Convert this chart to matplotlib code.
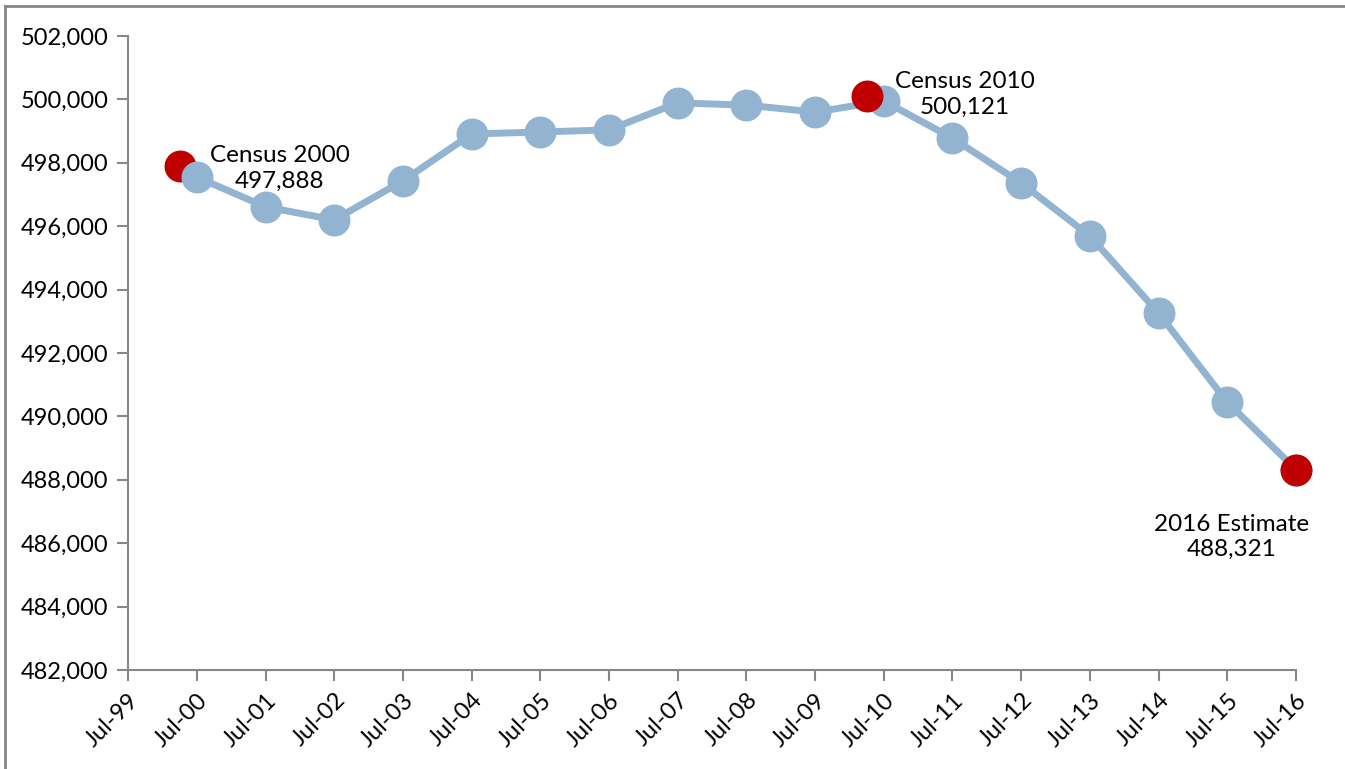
import datetime as dt
import matplotlib
matplotlib.use("Agg")
import matplotlib.pyplot as plt
import matplotlib.dates as mdates
from matplotlib.ticker import FuncFormatter
from matplotlib.lines import Line2D

plt.rcParams['font.family'] = ['Lato', 'DejaVu Sans']

# July 1 population estimates, 2000-2016
est_years = list(range(2000, 2017))
est_values = [497550, 496610, 496200, 497430, 498910, 498970, 499040, 499890,
              499820, 499600, 499950, 498780, 497360, 495690, 493260, 490450, 488321]

# census counts (April 1) and the 2016 estimate
census_dates = [dt.date(2000, 4, 1), dt.date(2010, 4, 1)]
census_values = [497888, 500121]
census_labels = ['Census 2000\n497,888', 'Census 2010\n500,121']
latest_label = '2016 Estimate\n488,321'

est_dates = [dt.date(y, 7, 1) for y in est_years]
tick_dates = [dt.date(y, 7, 1) for y in range(1999, 2017)]

blue = '#93B4D1'
red = '#C00000'
grey = '#878787'

fig = plt.figure(figsize=(13.45, 7.69), dpi=100)
ax = fig.add_axes([0.0952, 0.1287, 0.8684, 0.8245])

ax.plot(est_dates, est_values, color=blue, lw=5, marker='o', ms=22,
        mec=blue, zorder=3, clip_on=False)
ax.plot(census_dates[:1], census_values[:1], 'o', color=red, ms=22, zorder=2, clip_on=False)
ax.plot(census_dates[1:] + est_dates[-1:], census_values[1:] + est_values[-1:], 'o',
        color=red, ms=22, zorder=4, clip_on=False)

ax.annotate(census_labels[0], (census_dates[0], census_values[0]), xytext=(100, -2),
            textcoords='offset pixels', ha='center', va='center', fontsize=17.5,
            linespacing=1.25, zorder=5)
ax.annotate(census_labels[1], (census_dates[1], census_values[1]), xytext=(98, 1),
            textcoords='offset pixels', ha='center', va='center', fontsize=17.5,
            linespacing=1.25, zorder=5)
ax.annotate(latest_label, (est_dates[-1], est_values[-1]), xytext=(-64, -67),
            textcoords='offset pixels', ha='center', va='center', fontsize=17.5,
            linespacing=1.25, zorder=5)

ax.set_xlim(tick_dates[0], tick_dates[-1])
ax.set_ylim(482000, 502000)
ax.set_yticks(range(482000, 502001, 2000))
ax.yaxis.set_major_formatter(FuncFormatter(lambda v, p: f'{int(v):,}'))
ax.set_xticks(tick_dates)
ax.xaxis.set_major_formatter(mdates.DateFormatter('%b-%y'))
plt.setp(ax.get_xticklabels(), rotation=45, ha='right', rotation_mode='anchor')

for s in ['top', 'right']:
    ax.spines[s].set_visible(False)
for s in ['left', 'bottom']:
    ax.spines[s].set_color(grey)
    ax.spines[s].set_linewidth(1.5)
ax.tick_params(axis='both', color=grey, width=1.5, length=8, labelsize=17, pad=6)

# outer frame: only top and left edges are visible in the crop
fig.add_artist(Line2D([0.004, 1.0], [0.992, 0.992], transform=fig.transFigure,
                      color=grey, lw=2))
fig.add_artist(Line2D([0.004, 0.004], [0.0, 0.992], transform=fig.transFigure,
                      color=grey, lw=2))

fig.savefig('out.png', dpi=100)
